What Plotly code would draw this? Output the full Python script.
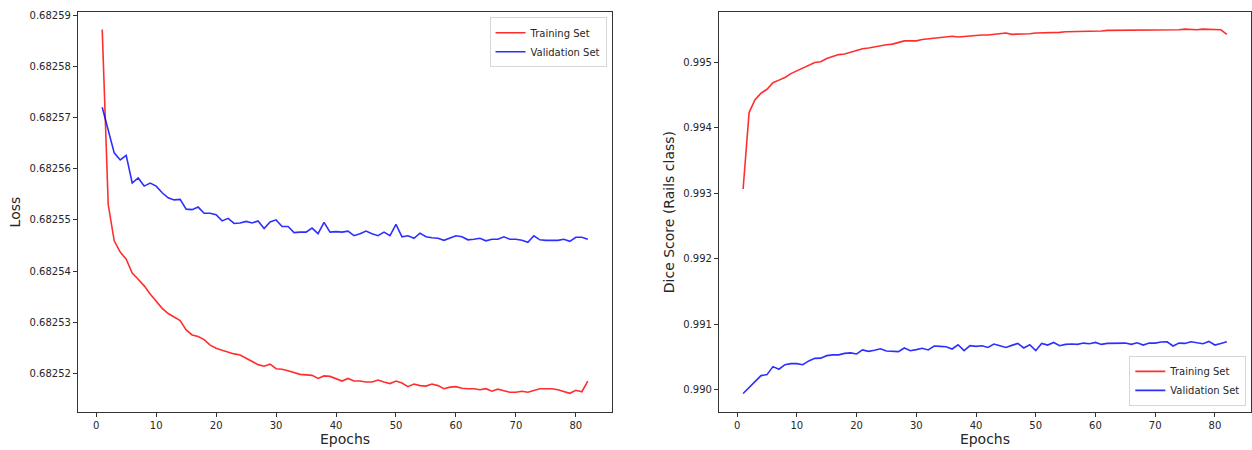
import plotly.graph_objects as go

epochs = list(range(1, 83))

train_loss = [
    0.6825872, 0.6825530, 0.6825459, 0.6825437, 0.6825423, 0.6825396, 0.6825384, 0.6825371, 0.6825355, 0.6825340,
    0.6825327, 0.6825317, 0.6825310, 0.6825303, 0.6825285, 0.6825275, 0.6825272, 0.6825266, 0.6825255, 0.6825249,
    0.6825245, 0.6825241, 0.6825238, 0.6825236, 0.6825230, 0.6825224, 0.6825217, 0.6825214, 0.6825218, 0.6825209,
    0.6825208, 0.6825205, 0.6825202, 0.6825198, 0.6825197, 0.6825196, 0.6825190, 0.6825195, 0.6825194, 0.6825189,
    0.6825185, 0.6825190, 0.6825185, 0.6825185, 0.6825183, 0.6825183, 0.6825187, 0.6825183, 0.6825180, 0.6825185,
    0.6825181, 0.6825174, 0.6825179, 0.6825176, 0.6825175, 0.6825179, 0.6825176, 0.6825170, 0.6825173, 0.6825174,
    0.6825171, 0.6825170, 0.6825170, 0.6825168, 0.6825170, 0.6825165, 0.6825169, 0.6825166, 0.6825163, 0.6825163,
    0.6825165, 0.6825163, 0.6825166, 0.6825170, 0.6825170, 0.6825170, 0.6825168, 0.6825165, 0.6825161, 0.6825167,
    0.6825164, 0.6825185,
]

val_loss = [
    0.6825720, 0.6825676, 0.6825631, 0.6825617, 0.6825626, 0.6825572, 0.6825582, 0.6825566, 0.6825572, 0.6825566,
    0.6825553, 0.6825543, 0.6825539, 0.6825540, 0.6825521, 0.6825520, 0.6825525, 0.6825513, 0.6825513, 0.6825510,
    0.6825498, 0.6825503, 0.6825493, 0.6825494, 0.6825497, 0.6825494, 0.6825498, 0.6825483, 0.6825496, 0.6825500,
    0.6825487, 0.6825487, 0.6825475, 0.6825476, 0.6825476, 0.6825484, 0.6825473, 0.6825495, 0.6825476, 0.6825477,
    0.6825476, 0.6825478, 0.6825469, 0.6825473, 0.6825478, 0.6825473, 0.6825469, 0.6825476, 0.6825469, 0.6825491,
    0.6825467, 0.6825469, 0.6825464, 0.6825474, 0.6825467, 0.6825465, 0.6825464, 0.6825460, 0.6825464, 0.6825469,
    0.6825467, 0.6825461, 0.6825462, 0.6825464, 0.6825459, 0.6825462, 0.6825462, 0.6825467, 0.6825462, 0.6825462,
    0.6825460, 0.6825456, 0.6825469, 0.6825461, 0.6825460, 0.6825460, 0.6825460, 0.6825462, 0.6825458, 0.6825466,
    0.6825466, 0.6825462,
]

train_dice = [
    0.993066, 0.994234, 0.994430, 0.994530, 0.994590, 0.994690, 0.994730, 0.994770, 0.994830, 0.994870,
    0.994910, 0.994950, 0.995000, 0.995010, 0.995060, 0.995090, 0.995120, 0.995130, 0.995160, 0.995190,
    0.995210, 0.995220, 0.995240, 0.995260, 0.995270, 0.995280, 0.995300, 0.995330, 0.995330, 0.995330,
    0.995350, 0.995360, 0.995380, 0.995390, 0.995390, 0.995400, 0.995390, 0.995400, 0.995410, 0.995420,
    0.995420, 0.995420, 0.995430, 0.995440, 0.995450, 0.995430, 0.995430, 0.995440, 0.995440, 0.995450,
    0.995450, 0.995460, 0.995460, 0.995460, 0.995470, 0.995470, 0.995470, 0.995480, 0.995480, 0.995480,
    0.995480, 0.995490, 0.995490, 0.995490, 0.995490, 0.995500, 0.995500, 0.995500, 0.995500, 0.995500,
    0.995500, 0.995500, 0.995500, 0.995500, 0.995510, 0.995500, 0.995500, 0.995510, 0.995510, 0.995500,
    0.995500, 0.995430,
]

val_dice = [
    0.989939, 0.990035, 0.990126, 0.990213, 0.990228, 0.990350, 0.990310, 0.990380, 0.990396, 0.990396,
    0.990380, 0.990437, 0.990477, 0.990480, 0.990518, 0.990530, 0.990530, 0.990553, 0.990560, 0.990544,
    0.990605, 0.990583, 0.990600, 0.990624, 0.990590, 0.990590, 0.990579, 0.990635, 0.990594, 0.990610,
    0.990630, 0.990605, 0.990666, 0.990660, 0.990655, 0.990620, 0.990685, 0.990594, 0.990670, 0.990660,
    0.990670, 0.990644, 0.990696, 0.990670, 0.990644, 0.990675, 0.990705, 0.990635, 0.990685, 0.990594,
    0.990705, 0.990680, 0.990720, 0.990670, 0.990690, 0.990696, 0.990690, 0.990710, 0.990700, 0.990720,
    0.990690, 0.990705, 0.990705, 0.990715, 0.990710, 0.990690, 0.990715, 0.990680, 0.990710, 0.990710,
    0.990727, 0.990730, 0.990666, 0.990710, 0.990705, 0.990730, 0.990710, 0.990700, 0.990736, 0.990680,
    0.990705, 0.990730,
]

loss_ticks = [0.68252, 0.68253, 0.68254, 0.68255, 0.68256, 0.68257, 0.68258, 0.68259]
dice_ticks = [0.990, 0.991, 0.992, 0.993, 0.994, 0.995]
x_ticks = [0, 10, 20, 30, 40, 50, 60, 70, 80]

RED = "rgba(255,0,0,0.82)"
BLUE = "rgba(0,0,255,0.82)"
FONT = "DejaVu Sans"
W, H = 1252, 450

fig = go.Figure()
fig.add_trace(go.Scatter(x=epochs, y=train_loss, mode="lines", name="Training Set",
                         line=dict(color=RED, width=1.6), xaxis="x", yaxis="y", legend="legend"))
fig.add_trace(go.Scatter(x=epochs, y=val_loss, mode="lines", name="Validation Set",
                         line=dict(color=BLUE, width=1.6), xaxis="x", yaxis="y", legend="legend"))
fig.add_trace(go.Scatter(x=epochs, y=train_dice, mode="lines", name="Training Set",
                         line=dict(color=RED, width=1.6), xaxis="x2", yaxis="y2", legend="legend2"))
fig.add_trace(go.Scatter(x=epochs, y=val_dice, mode="lines", name="Validation Set",
                         line=dict(color=BLUE, width=1.6), xaxis="x2", yaxis="y2", legend="legend2"))

axis_common = dict(showgrid=False, zeroline=False, showline=True, mirror=True,
                   linecolor="#333333", linewidth=1, ticks="outside", ticklen=4,
                   tickcolor="#333333", tickwidth=1,
                   tickfont=dict(family=FONT, size=10, color="#262626"))

ydom = [1 - 412 / H, 1 - 10 / H]
fig.update_layout(
    width=W, height=H,
    margin=dict(l=0, r=0, t=0, b=0),
    paper_bgcolor="white", plot_bgcolor="white",
    font=dict(family=FONT, size=10, color="#262626"),
    xaxis=dict(axis_common, domain=[78 / W, 612.6 / W], range=[-3.05, 86.05],
               tickvals=x_ticks, anchor="y",
               title=dict(text="Epochs", font=dict(family=FONT, size=14), standoff=4)),
    yaxis=dict(axis_common, domain=ydom, range=[0.68251241, 0.68259064],
               tickvals=loss_ticks, tickformat=".5f", anchor="x",
               title=dict(text="Loss", font=dict(family=FONT, size=14), standoff=5)),
    xaxis2=dict(axis_common, domain=[719.5 / W, 1.0], range=[-3.05, 86.05],
                tickvals=x_ticks, anchor="y2",
                title=dict(text="Epochs", font=dict(family=FONT, size=14), standoff=4)),
    yaxis2=dict(axis_common, domain=ydom, range=[0.989654, 0.995772],
                tickvals=dice_ticks, tickformat=".3f", anchor="x2",
                title=dict(text="Dice Score (Rails class)", font=dict(family=FONT, size=14), standoff=5)),
    legend=dict(x=607 / W, y=1 - 15.3 / H, xanchor="right", yanchor="top",
                bgcolor="rgba(255,255,255,0.8)", bordercolor="#d6d6d6", borderwidth=1,
                font=dict(family=FONT, size=10, color="#262626"), itemwidth=30,
                tracegroupgap=0),
    legend2=dict(x=1247.3 / W, y=1 - 405.7 / H, xanchor="right", yanchor="bottom",
                 bgcolor="rgba(255,255,255,0.8)", bordercolor="#d6d6d6", borderwidth=1,
                 font=dict(family=FONT, size=10, color="#262626"), itemwidth=30,
                 tracegroupgap=0),
)

fig.write_html(
    "out.html",
    config={"displayModeBar": False},
    post_script="document.body.style.margin='0';document.body.style.padding='0';document.body.style.overflow='hidden';",
)
